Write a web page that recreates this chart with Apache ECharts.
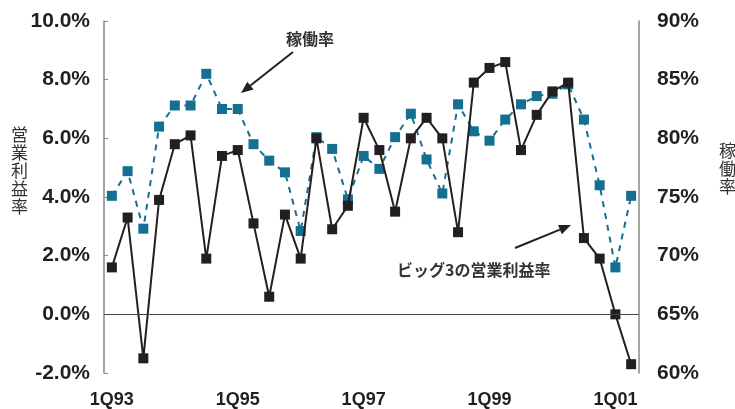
<!DOCTYPE html>
<html><head><meta charset="utf-8">
<script src="https://cdn.jsdelivr.net/npm/echarts@6/dist/echarts.min.js"></script>
<style>html,body{margin:0;padding:0;background:#fff}#c{width:735px;height:409px}</style>
</head><body><div id="c"></div>
<script>
const categories = ['1Q93','2Q93','3Q93','4Q93','1Q94','2Q94','3Q94','4Q94',
  '1Q95','2Q95','3Q95','4Q95','1Q96','2Q96','3Q96','4Q96',
  '1Q97','2Q97','3Q97','4Q97','1Q98','2Q98','3Q98','4Q98',
  '1Q99','2Q99','3Q99','4Q99','1Q00','2Q00','3Q00','4Q00',
  '1Q01','2Q01'];
const operatingMargin = [1.6,3.3,-1.5,3.9,5.8,6.1,1.9,5.4,
  5.6,3.1,0.6,3.4,1.9,6.0,2.9,3.7,
  6.7,5.6,3.5,6.0,6.7,6.0,2.8,7.9,
  8.4,8.6,5.6,6.8,7.6,7.9,2.6,1.9,
  0.0,-1.7];
const utilization = [75.1,77.2,72.3,81.0,82.8,82.8,85.5,82.5,
  82.5,79.5,78.1,77.1,72.1,80.1,79.1,74.8,
  78.5,77.4,80.1,82.1,78.2,75.3,82.9,80.6,
  79.8,81.6,82.9,83.6,83.8,84.6,81.6,76.0,
  69.0,75.1];
const leftTicks = {min:-2, max:10, step:2};
const rightTicks = {min:60, max:90, step:5};

const chart = echarts.init(document.getElementById('c'));
const BLACK = '#231f20', BLUE = '#146f90';
const tickFont = {fontFamily:'Liberation Sans, Arial, sans-serif', fontWeight:'bold', fontSize:21, color:'#231f20'};

function arrow(tail, head){
  const dx=head[0]-tail[0], dy=head[1]-tail[1], L=Math.hypot(dx,dy);
  const ux=dx/L, uy=dy/L, px=-uy, py=ux, hl=12, hw=5;
  const bx=head[0]-hl*ux, by=head[1]-hl*uy;
  return [
    {type:'line', shape:{x1:tail[0],y1:tail[1],x2:bx,y2:by}, style:{stroke:BLACK,lineWidth:2}},
    {type:'polygon', shape:{points:[head,[bx+hw*px,by+hw*py],[bx-hw*px,by-hw*py]]}, style:{fill:BLACK}}
  ];
}

chart.setOption({
  animation:false,
  grid:{left:104, right:96, top:21, bottom:34},
  xAxis:{type:'category', data:categories, boundaryGap:true,
    axisLine:{show:false}, axisTick:{show:false},
    axisLabel:{interval:7, margin:18, fontFamily:'Liberation Sans, Arial, sans-serif', fontWeight:'bold', fontSize:18, color:'#231f20'}},
  yAxis:[
    {type:'value', min:leftTicks.min, max:leftTicks.max, interval:leftTicks.step, position:'left',
      splitLine:{show:false},
      axisLine:{show:true, lineStyle:{color:'#888', width:1.5}},
      axisTick:{show:true, inside:true, length:4, lineStyle:{color:'#888'}},
      axisLabel:Object.assign({margin:14, formatter:v=>v.toFixed(1)+'%'}, tickFont)},
    {type:'value', min:rightTicks.min, max:rightTicks.max, interval:rightTicks.step, position:'right',
      splitLine:{show:false},
      axisLine:{show:true, lineStyle:{color:'#888', width:1.5}},
      axisTick:{show:false},
      axisLabel:Object.assign({margin:18, formatter:v=>v+'%'}, tickFont)}
  ],
  series:[
    {type:'line', name:'稼働率', yAxisIndex:1, data:utilization,
      symbol:'rect', symbolSize:10, itemStyle:{color:BLUE},
      lineStyle:{color:BLUE, width:2, type:[6,6]}, z:2},
    {type:'line', name:'ビッグ3の営業利益率', yAxisIndex:0, data:operatingMargin,
      symbol:'rect', symbolSize:10, itemStyle:{color:BLACK},
      lineStyle:{color:BLACK, width:2}, z:3,
      markLine:{silent:true, symbol:'none', label:{show:false},
        lineStyle:{color:'#444', width:1.2, type:'solid'}, data:[{yAxis:0}]}}
  ],
  graphic:[
    {type:'text', left:286, top:31, style:{text:'稼働率', font:'bold 16px "Noto Sans CJK JP"', fill:'#333'}},
    {type:'text', left:397, top:262, style:{text:'ビッグ3の営業利益率', font:'bold 16px "Noto Sans CJK JP"', fill:'#333'}},
    ...arrow([293,52],[241,93]),
    ...arrow([515,248],[571,225]),
    {type:'text', left:11, top:126, style:{text:'営\n業\n利\n益\n率', font:'17px "Noto Sans CJK JP"', lineHeight:18, fill:'#333'}},
    {type:'text', left:719, top:142, style:{text:'稼\n働\n率', font:'17px "Noto Sans CJK JP"', lineHeight:18, fill:'#333'}}
  ]
});
</script></body></html>
